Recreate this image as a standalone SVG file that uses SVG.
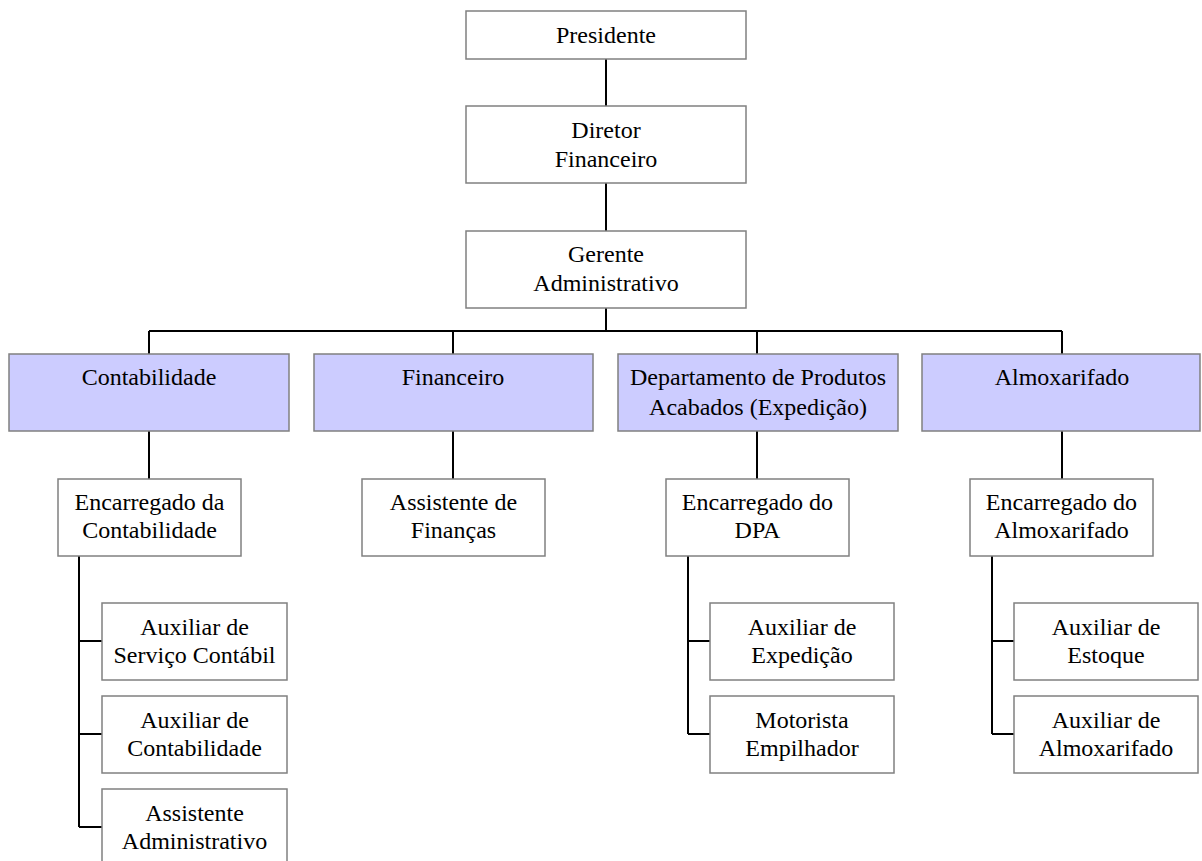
<svg xmlns="http://www.w3.org/2000/svg" width="1202" height="861" viewBox="0 0 1202 861">
<style>
.box{fill:#ffffff;stroke:#808080;stroke-width:1.5}
.dept{fill:#ccccff;stroke:#808080;stroke-width:1.5}
.t{font-family:"Liberation Serif","Times New Roman",serif;font-size:24px;fill:#000000;text-anchor:middle}
.c{fill:none;stroke:#000000;stroke-width:2}
</style>
<rect width="1202" height="861" fill="#ffffff"/>
<g id="connectors">
<path class="c" d="M606 59V106M606 183V231M606 308V331M149 331H1062M149 331V354M453 331V354M757 331V354M1062 331V354"/>
<path class="c" d="M149 431V479M453 431V479M757 431V479M1062 431V479"/>
<path class="c" d="M79 556V827M79 641H102M79 734H102M79 827H102"/>
<path class="c" d="M688 556V734M688 641H710M688 734H710"/>
<path class="c" d="M992 556V734M992 641H1014M992 734H1014"/>
</g>
<g id="presidente"><rect class="box" x="466" y="11" width="280" height="48"/><text class="t" x="606" y="43">Presidente</text></g>
<g id="diretor"><rect class="box" x="466" y="106" width="280" height="77"/><text class="t" x="606" y="138">Diretor</text><text class="t" x="606" y="167">Financeiro</text></g>
<g id="gerente"><rect class="box" x="466" y="231" width="280" height="77"/><text class="t" x="606" y="262">Gerente</text><text class="t" x="606" y="291">Administrativo</text></g>
<g id="contabilidade"><rect class="dept" x="9" y="354" width="280" height="77"/><text class="t" x="149" y="385">Contabilidade</text></g>
<g id="financeiro"><rect class="dept" x="314" y="354" width="279" height="77"/><text class="t" x="453" y="385">Financeiro</text></g>
<g id="dpa"><rect class="dept" x="618" y="354" width="280" height="77"/><text class="t" x="758" y="385">Departamento de Produtos</text><text class="t" x="758" y="415">Acabados (Expedição)</text></g>
<g id="almoxarifado"><rect class="dept" x="922" y="354" width="278" height="77"/><text class="t" x="1062" y="385">Almoxarifado</text></g>
<g id="enc-contabilidade"><rect class="box" x="58" y="479" width="183" height="77"/><text class="t" x="149.5" y="510">Encarregado da</text><text class="t" x="149.5" y="538">Contabilidade</text></g>
<g id="assist-financas"><rect class="box" x="362" y="479" width="183" height="77"/><text class="t" x="453.5" y="510">Assistente de</text><text class="t" x="453.5" y="538">Finanças</text></g>
<g id="enc-dpa"><rect class="box" x="666" y="479" width="183" height="77"/><text class="t" x="757.5" y="510">Encarregado do</text><text class="t" x="757.5" y="538">DPA</text></g>
<g id="enc-almox"><rect class="box" x="970" y="479" width="183" height="77"/><text class="t" x="1061.5" y="510">Encarregado do</text><text class="t" x="1061.5" y="538">Almoxarifado</text></g>
<g id="aux-servico"><rect class="box" x="102" y="603" width="185" height="77"/><text class="t" x="194.5" y="635">Auxiliar de</text><text class="t" x="194.5" y="663">Serviço Contábil</text></g>
<g id="aux-contabilidade"><rect class="box" x="102" y="696" width="185" height="77"/><text class="t" x="194.5" y="728">Auxiliar de</text><text class="t" x="194.5" y="756">Contabilidade</text></g>
<g id="assist-admin"><rect class="box" x="102" y="789" width="185" height="77"/><text class="t" x="194.5" y="821">Assistente</text><text class="t" x="194.5" y="849">Administrativo</text></g>
<g id="aux-expedicao"><rect class="box" x="710" y="603" width="184" height="77"/><text class="t" x="802" y="635">Auxiliar de</text><text class="t" x="802" y="663">Expedição</text></g>
<g id="motorista"><rect class="box" x="710" y="696" width="184" height="77"/><text class="t" x="802" y="728">Motorista</text><text class="t" x="802" y="756">Empilhador</text></g>
<g id="aux-estoque"><rect class="box" x="1014" y="603" width="184" height="77"/><text class="t" x="1106" y="635">Auxiliar de</text><text class="t" x="1106" y="663">Estoque</text></g>
<g id="aux-almox"><rect class="box" x="1014" y="696" width="184" height="77"/><text class="t" x="1106" y="728">Auxiliar de</text><text class="t" x="1106" y="756">Almoxarifado</text></g>
</svg>
